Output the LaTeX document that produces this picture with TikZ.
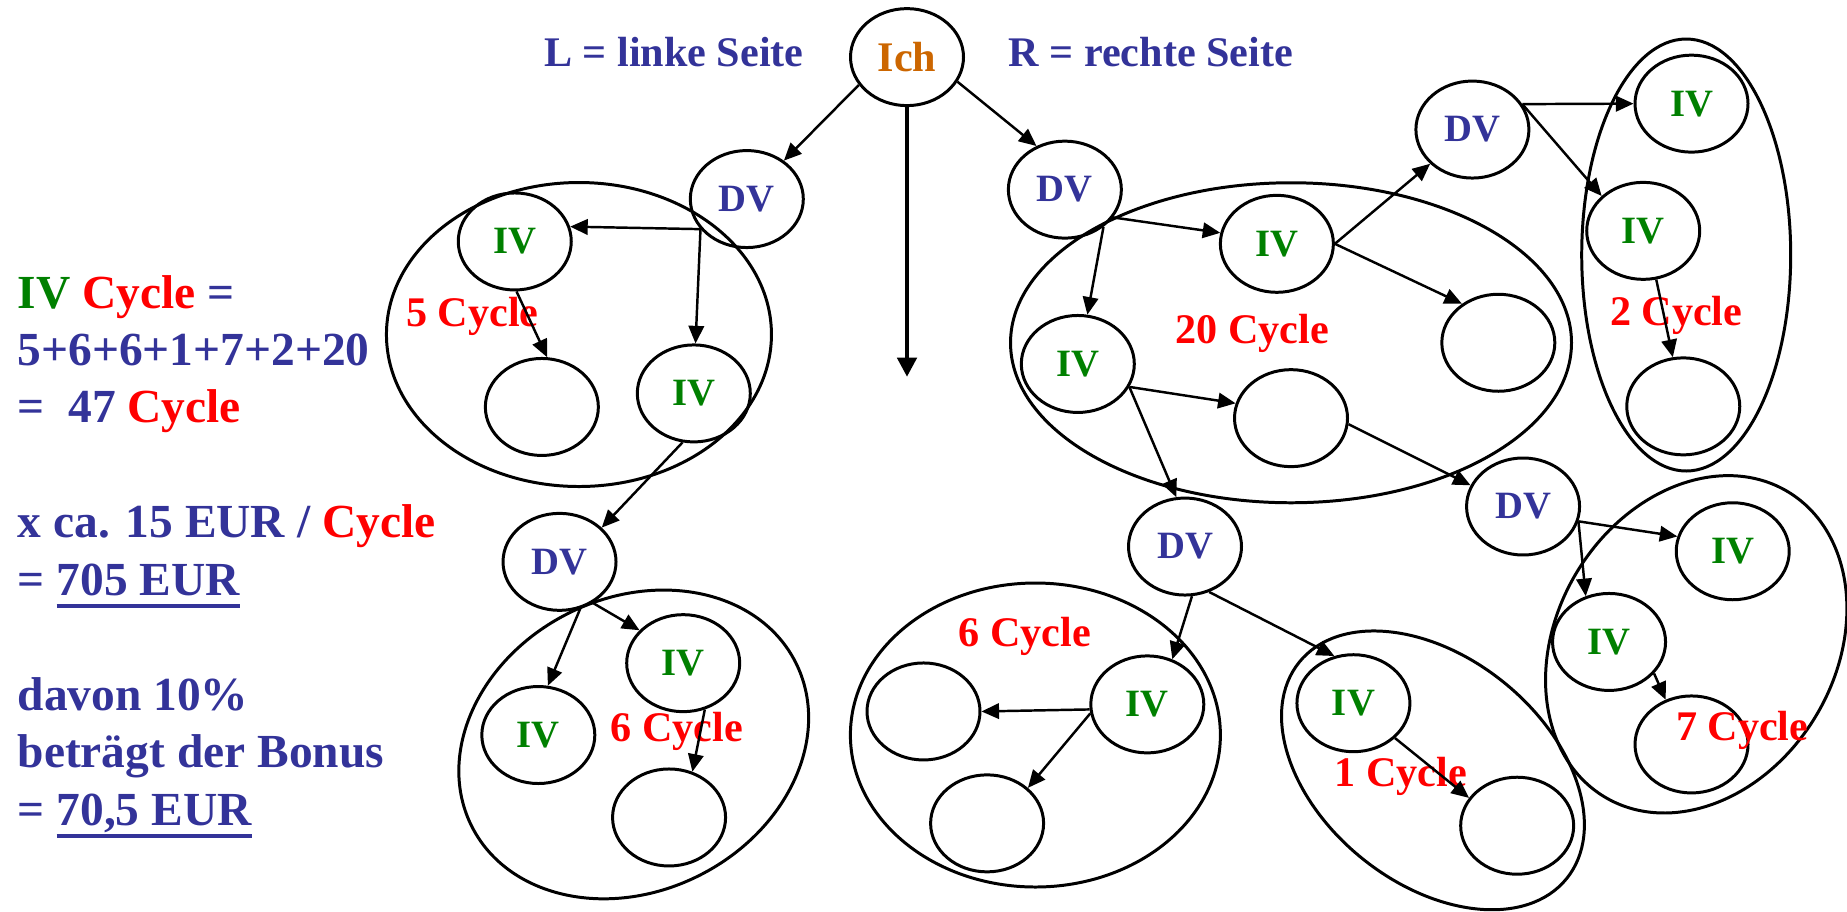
\documentclass[tikz,border=0pt]{standalone}
\usepackage{fontspec}
\setmainfont{Liberation Serif}
\usetikzlibrary{arrows.meta,shapes.geometric}
\definecolor{txtblue}{HTML}{333399}
\definecolor{ivgreen}{HTML}{008000}
\definecolor{cycred}{HTML}{FF0000}
\definecolor{ichorange}{HTML}{CC6600}
\newcommand{\ulx}[1]{\setbox0\hbox{#1}\rlap{\rule[-3.6pt]{\wd0}{1.2pt}}\box0}
\tikzset{
      arr/.style = {-{Triangle[length=5pt,width=4.4pt]}, line width=0.7pt},
     pers/.style = {draw, ellipse, line width=0.85pt, inner sep=0pt,
                    minimum width=1.13cm, minimum height=0.97cm,
                    font=\fontsize{11}{13}\selectfont\bfseries},
       dv/.style = {pers, text=txtblue},
       iv/.style = {pers, text=ivgreen},
      grp/.style = {draw, ellipse, line width=0.85pt, inner sep=0pt},
      cyc/.style = {text=cycred, font=\fontsize{12}{14}\selectfont\bfseries, inner sep=0pt},
     info/.style = {text=txtblue, font=\fontsize{12}{14}\selectfont\bfseries, inner sep=0pt},
      sum/.style = {text=txtblue, font=\fontsize{13.5}{16}\selectfont\bfseries,
                    inner sep=0pt, anchor=base west},
        }
\begin{document}
\begin{tikzpicture}[x=0.01178cm, y=-0.01178cm]
  \useasboundingbox (0,0) rectangle (1568,774);

  % left side
  \node[pers, text=ichorange, font=\fontsize{12}{14}\selectfont\bfseries] (ich) at (770,48.5) {Ich};
  \node[info] (lseite) at (572,44) {L = linke Seite};
  \node[info] (rseite) at (977,44) {R = rechte Seite};
  \coordinate (mitte) at (770,320);

  \node[dv] (dvl) at (634,169) {DV};
  \node[grp, minimum width=3.85cm, minimum height=3.04cm] (g5) at (491.5,284) {};
  \node[iv] (iva) at (437,205) {IV};
  \node[pers] (ea) at (460,345.5) {};
  \node[iv] (ivb) at (589,334) {IV};
  \node[cyc] (c5) at (401,269) {5 Cycle};

  \node[dv] (dvl2) at (475,477) {DV};
  \node[grp, minimum width=3.63cm, minimum height=2.93cm, rotate=27] (g6l) at (538,632) {};
  \node[iv] (ivc) at (580,563) {IV};
  \node[iv] (ivd) at (457,624) {IV};
  \node[pers] (ec) at (568,694) {};
  \node[cyc] (c6l) at (574.6,621) {6 Cycle};

  % right side
  \node[dv] (dvr) at (904,161) {DV};
  \node[grp, minimum width=5.61cm, minimum height=3.2cm] (g20) at (1096,291) {};
  \node[iv] (ive) at (1084,207) {IV};
  \node[iv] (ivf) at (915,309) {IV};
  \node[pers] (ee) at (1272,291) {};
  \node[pers] (ef) at (1096,355) {};
  \node[cyc] (c20) at (1063,283) {20 Cycle};

  \node[dv] (dvr2) at (1250,110) {DV};
  \node[grp, minimum width=2.09cm, minimum height=4.32cm] (g2) at (1431.5,216.5) {};
  \node[iv] (ivg) at (1436,88) {IV};
  \node[iv] (ivh) at (1395,196) {IV};
  \node[pers] (eg) at (1429,345) {};
  \node[cyc] (c2) at (1423,268) {2 Cycle};

  \node[dv] (dvr4) at (1293,430) {DV};
  \node[grp, minimum width=3.56cm, minimum height=2.79cm, rotate=59] (g7) at (1440,547) {};
  \node[iv] (ivi) at (1471,468) {IV};
  \node[iv] (ivj) at (1366,545) {IV};
  \node[pers] (ej) at (1436,632) {};
  \node[cyc] (c7) at (1479,620) {7 Cycle};

  \node[dv] (dvr3) at (1006,464) {DV};
  \node[grp, minimum width=3.7cm, minimum height=3.04cm] (g6r) at (879,624) {};
  \node[iv] (ivk) at (974,598) {IV};
  \node[pers] (ek1) at (784,604) {};
  \node[pers] (ek2) at (838,699) {};
  \node[cyc] (c6r) at (870,540.5) {6 Cycle};

  \node[grp, minimum width=3.44cm, minimum height=2.26cm, rotate=-39] (g1) at (1216.5,654) {};
  \node[iv] (ivl) at (1149,597) {IV};
  \node[pers] (el) at (1288,701) {};
  \node[cyc] (c1) at (1189,659) {1 Cycle};

  % summe
  \node[sum] (t1) at (14.4,261.5) {{\color{ivgreen}IV} {\color{cycred}Cycle} =};
  \node[sum] (t2) at (14.4,310.3) {5+6+6+1+7+2+20};
  \node[sum] (t3) at (14.4,359.1) {=\ \ 47 {\color{cycred}Cycle}};
  \node[sum] (t4) at (14.4,456.7) {x ca. 15 EUR / {\color{cycred}Cycle}};
  \node[sum] (t5) at (14.4,505.5) {= \ulx{705 EUR}};
  \node[sum] (t6) at (14.4,603.1) {davon 10\%};
  \node[sum] (t7) at (14.4,651.9) {beträgt der Bonus};
  \node[sum] (t8) at (14.4,700.7) {= \ulx{70,5 EUR}};

  \draw[arr] (ich.210) -- (dvl.46);
  \draw[-{Triangle[length=5.5pt,width=5.4pt]}, line width=1.4pt] (ich.south) -- (mitte);
  \draw[arr] (ich.-26) -- (dvr.123);

  \draw[arr] (dvl.213) -- (iva.15);
  \draw[arr] (dvl.213) -- (ivb.88);
  \draw[arr] (iva.-88) -- (ea.84);
  \draw[arr] (ivb.257) -- (dvl2.39);
  \draw[arr] (dvl2.-66) -- (ivd.79);
  \draw[arr] (dvl2.-51) -- (ivc.143);
  \draw[arr] (ivc.-65) -- (ec.63);

  \draw[arr] (dvr.-30) -- (ive.169);
  \draw[arr] (dvr.-44) -- (ivf.79);
  \draw[arr] (ive.east) -- (dvr2.219);
  \draw[arr] (ive.east) -- (ee.133);
  \draw[arr] (ivf.-24) -- (ef.165);
  \draw[arr] (ivf.-24) -- (dvr3.100);
  \draw[arr] (ef.-6) -- (dvr4.158);

  \draw[arr] (dvr2.27) -- (ivg.west);
  \draw[arr] (dvr2.27) -- (ivh.140);
  \draw[arr] (ivh.-75) -- (eg.102);

  \draw[arr] (dvr4.-15) -- (ivi.165);
  \draw[arr] (dvr4.-15) -- (ivj.117);
  \draw[arr] (ivj.-35) -- (ej.120);

  \draw[arr] (dvr3.-82) -- (ivk.61);
  \draw[arr] (dvr3.-62) -- (ivl.112);
  \draw[arr] (ivk.185) -- (ek1.east);
  \draw[arr] (ivk.189) -- (ek2.41);
  \draw[arr] (ivl.-40) -- (el.150);
\end{tikzpicture}
\end{document}
